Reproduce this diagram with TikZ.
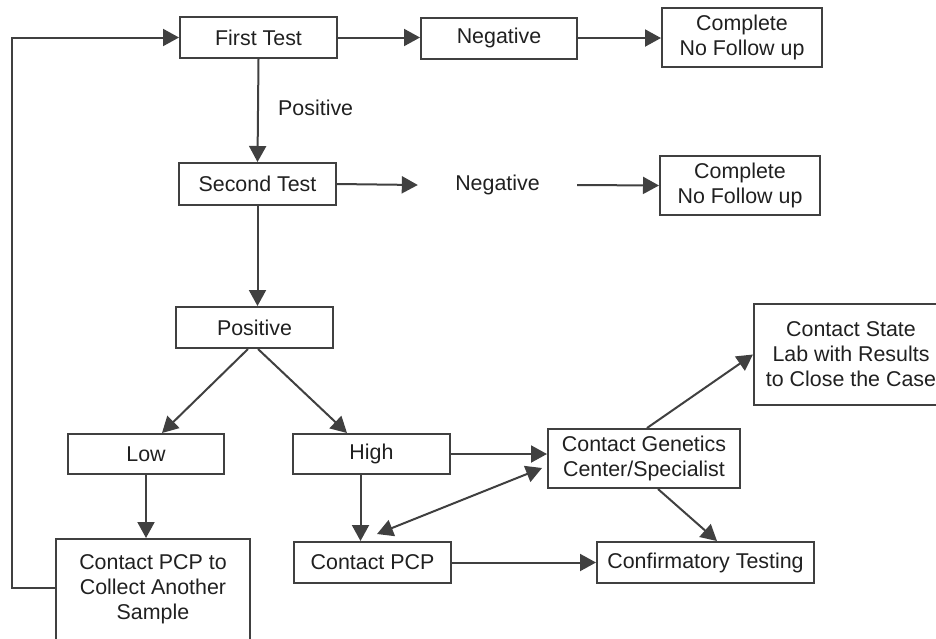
\documentclass[tikz,border=0pt]{standalone}
\usepackage{fontspec}
\setmainfont{Liberation Sans}
\usetikzlibrary{arrows.meta,calc}
\definecolor{ln}{HTML}{404040}
\definecolor{tx}{HTML}{202020}
\begin{document}
\begin{tikzpicture}[x=1pt,y=-1pt,
  box/.style={draw=ln,line width=2pt,rectangle,inner sep=0pt,text=tx,align=center,
    font=\fontsize{21.4}{25}\selectfont},
  lbl/.style={text=tx,inner sep=0pt,font=\fontsize{21.4}{25}\selectfont},
  conn/.style={draw=ln,line width=2pt,-{Triangle[length=16pt,width=17pt]}},
  dconn/.style={draw=ln,line width=2pt,{Triangle[length=16pt,width=17pt]}-{Triangle[length=16pt,width=17pt]}},
  plain/.style={draw=ln,line width=2pt}]
\useasboundingbox (0,0) rectangle (936,638);
\clip (0,0) rectangle (936,638);
\node[box,minimum width=157pt,minimum height=41pt] (first) at (258.5,37.5) {First Test};
\node[box,minimum width=156pt,minimum height=41pt] (neg1) at (499,38) {Negative};
\node[box,minimum width=160pt,minimum height=59pt] (comp1) at (742,37.5) {Complete\\No Follow up};
\node[lbl,anchor=west] (poslbl) at (278,108) {Positive};
\node[box,minimum width=157pt,minimum height=42pt] (second) at (257.5,184) {Second Test};
\node[lbl,minimum width=159pt] (neg2) at (497.5,185) {Negative};
\node[box,minimum width=160pt,minimum height=59pt] (comp2) at (740,185.5) {Complete\\No Follow up};
\node[box,minimum width=157pt,minimum height=41pt] (pos) at (254.5,327.5) {Positive};
\node[box,minimum width=156pt,minimum height=40pt] (low) at (146,454) {Low};
\node[box,minimum width=157pt,minimum height=40pt] (high) at (371.5,454) {High};
\node[box,minimum width=194pt,minimum height=104pt] (pcp2) at (153,591) {};
\node[lbl,align=center] (pcp2t) at (153,589) {Contact PCP to\\Collect Another\\Sample};
\node[box,minimum width=157pt,minimum height=41pt] (pcp) at (372.5,562.5) {Contact PCP};
\node[box,minimum width=192pt,minimum height=59pt] (gen) at (644,458.5) {Contact Genetics\\Center/Specialist};
\node[box,minimum width=194pt,minimum height=101pt] (state) at (851,354.5) {Contact State\\Lab with Results\\to Close the Case};
\node[box,minimum width=217pt,minimum height=41pt] (conf) at (705.5,562.5) {Confirmatory Testing};
\coordinate (loopb) at (12,588);
% connectors
\draw[conn] (first.east) -- (first.east -| neg1.west);
\draw[conn] (neg1.east) -- (neg1.east -| comp1.west);
\draw[conn] (first.south) -- (second.north);
\draw[conn] (second.east) -- (neg2.west);
\draw[conn] (neg2.east) -- (comp2.west);
\draw[conn] (second.south) -- (second.south |- pos.north);
\draw[conn] ([xshift=-6.5pt]pos.south) -- ([xshift=16pt]low.north);
\draw[conn] ([xshift=3.5pt]pos.south) -- ([xshift=-24.5pt]high.north);
\draw[conn] (low.south) -- (low.south |- pcp2.north);
\draw[conn] (pcp2.west |- loopb) -- (loopb) |- (first.west);
\draw[conn] ([xshift=-11pt]high.south) -- ([xshift=-11pt]high.south |- pcp.north);
\draw[conn] (high.east) -- (high.east -| gen.west);
\draw[dconn] ([shift={(4.5,-7)}]pcp.north) -- ([shift={(-5,9.5)}]gen.west);
\draw[conn] ([xshift=3pt]gen.north) -- (state.west);
\draw[conn] ([xshift=14pt]gen.south) -- ([xshift=11.5pt]conf.north);
\draw[conn] (pcp.east) -- (conf.west);
\end{tikzpicture}
\end{document}
